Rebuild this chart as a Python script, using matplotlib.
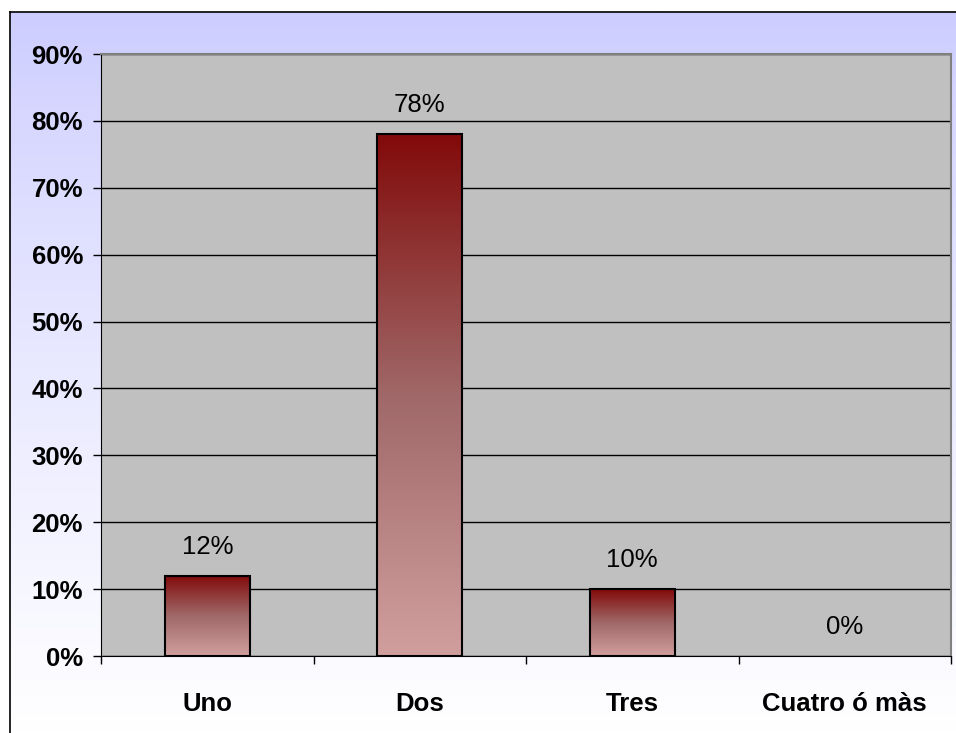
import numpy as np
import matplotlib.pyplot as plt
from matplotlib.lines import Line2D

# Data
categories = ['Uno', 'Dos', 'Tres', 'Cuatro ó màs']
values = [12, 78, 10, 0]
labels = ['12%', '78%', '10%', '0%']
yticks = [0, 10, 20, 30, 40, 50, 60, 70, 80, 90]

plt.rcParams['font.family'] = ['Liberation Sans', 'DejaVu Sans']

W, H = 956, 733
fig = plt.figure(figsize=(W / 100, H / 100), dpi=100)

# background gradient inside the outer frame
bg = fig.add_axes([10 / W, 0, 1 - 10 / W, 1 - 12 / H], zorder=-10)
bg.axis('off')
grad = np.linspace(0, 1, 256).reshape(-1, 1)
top = np.array([204, 204, 255]) / 255
bot = np.array([255, 255, 255]) / 255
img = top + (bot - top) * grad[..., None] ** 0.8
bg.imshow(img, aspect='auto', extent=[0, 1, 0, 1], origin='upper')
bg.set_xlim(0, 1)
bg.set_ylim(0, 1)

# outer frame (left and top edges visible)
fig.add_artist(Line2D([10 / W, 10 / W], [0, 1 - 12 / H], color='black', lw=1.2))
fig.add_artist(Line2D([10 / W, 1], [1 - 12 / H, 1 - 12 / H], color='black', lw=1.2))

ax = fig.add_axes([101 / W, 77 / H, 850 / W, 602 / H])
ax.set_facecolor('#C0C0C0')

x = np.arange(len(categories))
bars = ax.bar(x, values, width=0.4, color='none', edgecolor='black', linewidth=1.5, zorder=3)

# vertical gradient fill for each bar (dark red on top, pale pink at bottom)
stops = np.array([0.0, 0.5, 1.0])
cols = np.array([[130, 10, 10], [160, 104, 104], [209, 158, 158]]) / 255
g = np.linspace(0, 1, 256)
bar_img = np.stack([np.interp(g, stops, cols[:, k]) for k in range(3)], axis=-1)[:, None, :]
for b in bars:
    if b.get_height() <= 0:
        b.set_visible(False)
        continue
    x0, y0 = b.get_x(), b.get_y()
    im = ax.imshow(bar_img, aspect='auto', origin='upper',
                   extent=[x0, x0 + b.get_width(), y0, y0 + b.get_height()], zorder=2)
    im.set_clip_path(b)

for xi, v, lab in zip(x, values, labels):
    ax.annotate(lab, (xi, v), xytext=(0, 21), textcoords='offset points',
                ha='center', va='center', fontsize=18.5)

ax.set_xlim(-0.5, len(categories) - 0.5)
ax.set_ylim(0, 90)
ax.set_yticks(yticks)
ax.set_yticklabels([f'{t}%' for t in yticks], fontsize=18.5, fontweight='bold')
ax.set_xticks(x)
ax.set_xticklabels(categories, fontsize=18.5, fontweight='bold')
ax.set_xticks(np.arange(len(categories) + 1) - 0.5, minor=True)
ax.tick_params(axis='x', which='major', length=0, pad=26)
ax.tick_params(axis='x', which='minor', length=6, width=1)
ax.tick_params(axis='y', length=6, width=1, pad=7)
ax.grid(axis='y', color='black', linewidth=1, zorder=1)
ax.set_axisbelow(True)

for s in ['top', 'right']:
    ax.spines[s].set_color('#808080')
    ax.spines[s].set_linewidth(1.5)
ax.spines['left'].set_color('black')
ax.spines['bottom'].set_color('black')

fig.savefig('out.png', dpi=100)
